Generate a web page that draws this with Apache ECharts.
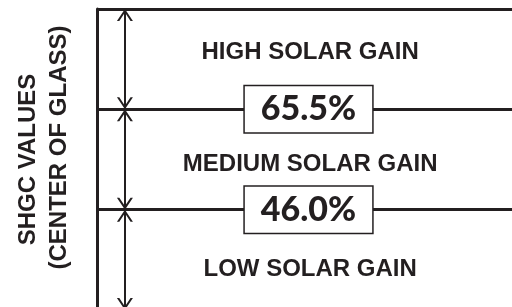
<!DOCTYPE html>
<html>
<head>
<meta charset="utf-8">
<script src="https://cdn.jsdelivr.net/npm/echarts@6/dist/echarts.min.js"></script>
<style>
html, body { margin: 0; padding: 0; background: #fff; }
#chart { width: 512px; height: 307px; }
</style>
</head>
<body>
<div id="chart"></div>
<script>
var bands = ['HIGH SOLAR GAIN', 'MEDIUM SOLAR GAIN', 'LOW SOLAR GAIN'];
var thresholds = ['65.5%', '46.0%'];
var axisTitle = ['SHGC VALUES', '(CENTER OF GLASS)'];

var ink = '#231f20';
var arrowX = 0.066;
var textX = 0.504;
var labelShift = [-0.07, 0.05, 0.1];
// open chevron, tip at the centre of its box so it touches the boundary
var chevron = 'path://M8,0 M0,24 L8,12 L16,24 L13.6,24 L8,15.6 L2.4,24 Z';

var chart = echarts.init(document.getElementById('chart'));

var boundaryLines = [{ yAxis: 0, label: { show: false } }];
thresholds.forEach(function (t, i) {
    boundaryLines.push({ yAxis: i + 1, label: { show: true, formatter: t } });
});

var arrowLines = bands.map(function (b, i) {
    return [{ coord: [arrowX, i] }, { coord: [arrowX, i + 1] }];
});

var titleFont = { color: ink, fontFamily: 'Liberation Sans', fontWeight: 'bold', fontSize: 24, lineHeight: 31 };

var option = {
    animation: false,
    grid: { left: 97, top: 9, right: -8, height: 301, outerBoundsMode: 'none' },
    xAxis: { type: 'value', min: 0, max: 1, show: false },
    yAxis: {
        type: 'value', min: 0, max: 3, inverse: true,
        axisLine: { show: true, lineStyle: { color: ink, width: 3 } },
        axisTick: { show: false },
        axisLabel: { show: false },
        splitLine: { show: false },
        name: '{a|' + axisTitle[0] + '}\n{b|' + axisTitle[1] + '}',
        nameLocation: 'middle',
        nameRotate: 90,
        nameGap: 22,
        nameTextStyle: {
            color: ink, fontFamily: 'Liberation Sans', fontWeight: 'bold',
            fontSize: 24, lineHeight: 31,
            rich: {
                a: titleFont,
                b: Object.assign({ padding: [0, 0, 0, 24] }, titleFont)
            }
        }
    },
    series: [
        {
            type: 'scatter',
            symbolSize: 0,
            silent: true,
            itemStyle: { opacity: 1 },
            data: bands.map(function (b, i) {
                return { name: b, value: [textX, i + 0.5 + labelShift[i]] };
            }),
            label: {
                show: true, position: 'inside', formatter: '{b}', color: ink,
                fontFamily: 'Liberation Sans', fontWeight: 'bold', fontSize: 24
            },
            markLine: {
                silent: true,
                symbol: 'none',
                lineStyle: { color: ink, width: 3, type: 'solid' },
                emphasis: { disabled: true },
                label: {
                    position: 'insideMiddle', color: ink,
                    fontFamily: 'Lato', fontWeight: 900, fontSize: 34,
                    backgroundColor: '#fff', borderColor: ink, borderWidth: 1.5,
                    padding: [4, 16, 2, 16], lineHeight: 40
                },
                data: boundaryLines
            }
        },
        {
            type: 'scatter',
            symbolSize: 0,
            silent: true,
            data: bands.map(function (b, i) { return [arrowX, i + 0.5]; }),
            markLine: {
                silent: true,
                symbol: [chevron, chevron],
                symbolSize: [16, 24],
                lineStyle: { color: ink, width: 2, type: 'solid' },
                emphasis: { disabled: true },
                label: { show: false },
                data: arrowLines
            }
        }
    ]
};

chart.setOption(option);
</script>
</body>
</html>
